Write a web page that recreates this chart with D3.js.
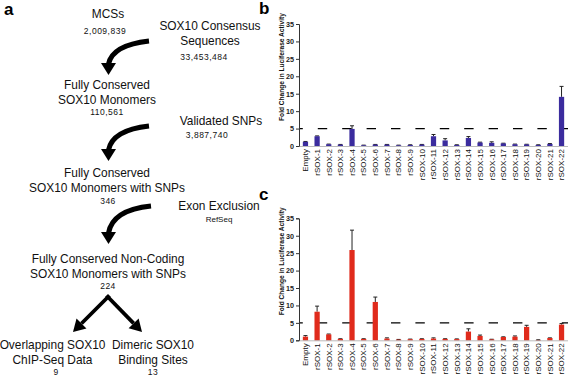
<!DOCTYPE html>
<html>
<head>
<meta charset="utf-8">
<script src="https://cdn.jsdelivr.net/npm/d3@7"></script>
<style>
  body { margin: 0; background: #fff; }
  svg { display: block; font-family: "Liberation Sans", Arial, sans-serif; }
</style>
</head>
<body>
<svg width="568" height="376"></svg>
<script>
// ---- data ----
const categories = ['Empty', 'rSOX-1', 'rSOX-2', 'rSOX-3', 'rSOX-4', 'rSOX-5', 'rSOX-6', 'rSOX-7',
    'rSOX-8', 'rSOX-9', 'rSOX-10', 'rSOX-11', 'rSOX-12', 'rSOX-13', 'rSOX-14', 'rSOX-15',
    'rSOX-16', 'rSOX-17', 'rSOX-18', 'rSOX-19', 'rSOX-20', 'rSOX-21', 'rSOX-22'];
const blueValues = [1.2, 2.8, 0.5, 0.4, 4.9, 0.2, 0.4, 0.4, 0.2, 0.3, 0.4, 2.8, 1.6, 0.3, 2.3, 1.0,
    0.9, 0.75, 0.5, 0.45, 0.3, 0.6, 14.1];
const blueErrors = [0.1, 0.1, 0.05, 0.05, 0.9, 0.05, 0.05, 0.05, 0.05, 0.05, 0.05, 0.5, 0.5, 0.05, 0.4, 0.1,
    0.3, 0.05, 0.05, 0.05, 0.05, 0.1, 3.0];
const redValues = [1.05, 8.2, 1.7, 0.4, 25.9, 0.4, 11.0, 0.5, 0.2, 0.3, 0.4, 0.5, 0.4, 0.35, 2.5, 1.25,
    0.25, 0.95, 1.05, 3.85, 0.1, 0.65, 4.5];
const redErrors = [0.3, 1.6, 0.1, 0.05, 5.7, 0.05, 1.4, 0.2, 0.05, 0.05, 0.05, 0.2, 0.05, 0.05, 0.8, 0.25,
    0.05, 0.05, 0.2, 0.45, 0.05, 0.05, 0.3];
const yTicks = [0, 5, 10, 15, 20, 25, 30, 35];
const thresholdValue = 5;
const yAxisLabel = 'Fold Change in Luciferase Activity';

const flowTitles = [
    ['MCSs'],
    ['SOX10 Consensus', 'Sequences'],
    ['Fully Conserved', 'SOX10 Monomers'],
    ['Validated SNPs'],
    ['Fully Conserved', 'SOX10 Monomers with SNPs'],
    ['Exon Exclusion'],
    ['Fully Conserved Non-Coding', 'SOX10 Monomers with SNPs'],
    ['Overlapping SOX10', 'ChIP-Seq Data'],
    ['Dimeric SOX10', 'Binding Sites']
];
const flowCounts = ['2,009,839', '33,453,484', '110,561', '3,887,740', '346', 'RefSeq', '224', '9', '13'];

// ---- layout ----
const svg = d3.select('svg');
const blue = '#3b2c9e';
const red = '#e02b1c';

// where each flow box sits: title centre, first baseline, count centre, count baseline
const flowPos = [
    {x: 108, y: 18, cx: 105, cy: 34},
    {x: 210, y: 30, cx: 204, cy: 60},
    {x: 107, y: 89, cx: 107, cy: 114.5},
    {x: 221, y: 124.5, cx: 207, cy: 138},
    {x: 107, y: 177, cx: 108, cy: 204},
    {x: 219, y: 210, cx: 219, cy: 222},
    {x: 108, y: 263, cx: 108, cy: 289},
    {x: 52.5, y: 349, cx: 56, cy: 375},
    {x: 153, y: 349, cx: 153, cy: 375}
];

const flow = svg.append('g');
flowTitles.forEach((lines, i) => {
    const p = flowPos[i];
    lines.forEach((line, j) => {
        flow.append('text')
            .attr('x', p.x)
            .attr('y', p.y + j * 14.5)
            .attr('text-anchor', 'middle')
            .attr('font-size', 11.9)
            .attr('fill', '#111')
            .text(line);
    });
    flow.append('text')
        .attr('x', p.cx)
        .attr('y', p.cy)
        .attr('text-anchor', 'middle')
        .attr('font-size', i === 5 ? 8 : 8.5)
        .attr('letter-spacing', i === 5 ? 0 : 0.5)
        .attr('fill', '#111')
        .text(flowCounts[i]);
});

// curved arrows between the steps
const curvedArrow = (x0, y0, x1, baseY, tipY) => {
    flow.append('path')
        .attr('d', `M${x0},${y0} Q${x1 + 4},${y0 + 4} ${x1},${baseY + 1}`)
        .attr('fill', 'none')
        .attr('stroke', '#000')
        .attr('stroke-width', 5);
    flow.append('path')
        .attr('d', `M${x1 - 7.5},${baseY} L${x1 + 7.5},${baseY} L${x1},${tipY} Z`)
        .attr('fill', '#000');
};
curvedArrow(149, 41, 108.5, 63, 75);
curvedArrow(149, 126, 108.5, 149, 161);
curvedArrow(151, 206, 108.5, 232, 244);

// split arrows
const straightArrow = (x0, y0, x1, y1) => {
    const a = Math.atan2(y1 - y0, x1 - x0);
    const len = 12, half = 7;
    const bx = x1 - len * Math.cos(a), by = y1 - len * Math.sin(a);
    flow.append('line')
        .attr('x1', x0).attr('y1', y0).attr('x2', bx).attr('y2', by)
        .attr('stroke', '#000').attr('stroke-width', 3.8);
    flow.append('path')
        .attr('d', `M${bx + half * Math.sin(a)},${by - half * Math.cos(a)} L${bx - half * Math.sin(a)},${by + half * Math.cos(a)} L${x1},${y1} Z`)
        .attr('fill', '#000');
};
straightArrow(109.5, 295.5, 73, 332);
straightArrow(106.5, 295.5, 142, 332);

svg.append('text').attr('x', 4).attr('y', 15).attr('font-size', 17).attr('font-weight', 'bold').text('a');

// ---- bar charts ----
const x = d3.scaleBand()
    .domain(categories)
    .range([299, 568])
    .paddingInner(0.55)
    .paddingOuter(0.33);

const drawChart = (values, errors, color, top, bottom, letter, letterY) => {
    const y = d3.scaleLinear().domain([0, 35]).range([bottom, top]);
    const g = svg.append('g');

    // threshold dashes
    g.append('line')
        .attr('x1', 299).attr('x2', 568)
        .attr('y1', y(thresholdValue)).attr('y2', y(thresholdValue))
        .attr('stroke', '#000')
        .attr('stroke-width', 1.3)
        .attr('stroke-dasharray', '9.4 15')
        .attr('stroke-dashoffset', 5.6);

    // error bars
    g.selectAll('.err')
        .data(categories)
        .enter()
            .append('path')
            .attr('d', (d, i) => {
                const cx = x(d) + x.bandwidth() / 2;
                const yt = y(values[i] + errors[i]);
                return `M${cx},${y(values[i])}V${yt}M${cx - 2},${yt}H${cx + 2}`;
            })
            .attr('fill', 'none')
            .attr('stroke', '#222')
            .attr('stroke-width', 1);

    g.selectAll('rect')
        .data(categories)
        .enter()
            .append('rect')
            .attr('x', d => x(d))
            .attr('width', x.bandwidth())
            .attr('y', (d, i) => y(values[i]))
            .attr('height', (d, i) => y(0) - y(values[i]))
            .attr('fill', color);

    const yAxis = d3.axisLeft(y).tickValues(yTicks).tickSize(3).tickPadding(2);
    const yAxisG = g.append('g')
        .attr('transform', 'translate(299,0)')
        .call(yAxis);
    yAxisG.select('.domain').attr('stroke', '#333');
    yAxisG.selectAll('.tick line').attr('stroke', '#333');
    yAxisG.selectAll('text')
        .attr('font-size', 7.2)
        .attr('font-weight', 'bold')
        .attr('font-family', '"Liberation Sans", Arial, sans-serif')
        .attr('fill', '#222');

    const xAxisG = g.append('g')
        .attr('transform', `translate(0,${y(0)})`)
        .call(d3.axisBottom(x).tickSize(0).tickPadding(3));
    xAxisG.select('.domain').attr('stroke', '#777').attr('stroke-width', 0.5);
    xAxisG.selectAll('text')
        .attr('font-size', 8)
        .attr('font-family', '"Liberation Sans", Arial, sans-serif')
        .attr('fill', '#111')
        .attr('text-anchor', 'end')
        .attr('transform', 'rotate(-90)')
        .attr('x', -3)
        .attr('y', 0)
        .attr('dy', '0.35em');

    g.append('text')
        .attr('transform', `translate(283.5,${(top + bottom) / 2 - 18}) rotate(-90)`)
        .attr('text-anchor', 'middle')
        .attr('font-size', 6.6)
        .attr('font-weight', 'bold')
        .attr('fill', '#111')
        .text(yAxisLabel);

    svg.append('text')
        .attr('x', 259).attr('y', letterY)
        .attr('font-size', 17).attr('font-weight', 'bold')
        .text(letter);
};

drawChart(blueValues, blueErrors, blue, 24, 146, 'b', 14);
drawChart(redValues, redErrors, red, 218.3, 340.3, 'c', 200);
</script>
</body>
</html>
